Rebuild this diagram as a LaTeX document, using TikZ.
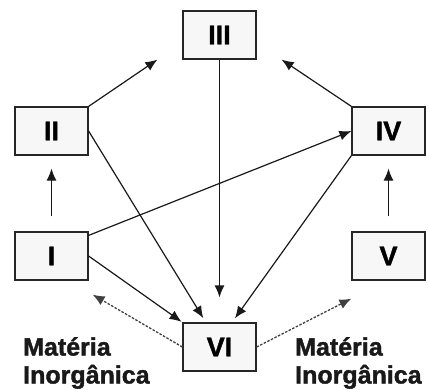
\documentclass[tikz,border=0pt]{standalone}
\usepackage{fontspec}
\setmainfont{Liberation Sans}[BoldFeatures={FakeBold=1.5}]
\usepackage{tikz}
\usetikzlibrary{arrows.meta}

\begin{document}
\begin{tikzpicture}[x=1pt,y=-1pt]
    \tikzstyle{box}=[draw=black!85,line width=1.2pt,fill=gray!6,shape=rectangle,minimum width=73pt,minimum height=48pt,inner sep=0pt,font=\fontsize{27}{30}\selectfont\bfseries]
    \tikzstyle{arrow}=[draw=black!90,line width=1.2pt,-{Latex[length=12pt,width=10pt]}]
    \tikzstyle{dotarrow}=[draw=black!75,line width=1.3pt,dash pattern=on 2.5pt off 1.5pt,-{Latex[length=12pt,width=10pt]}]
    \tikzstyle{note}=[align=left,inner sep=0pt,font=\fontsize{25}{28}\selectfont\bfseries,text=black!90]

    \useasboundingbox (0,0) rectangle (429,389);

    \node[box] (III) at (219.5, 35) {III};
    \node[box] (II) at (51.5, 131) {II};
    \node[box] (IV) at (388.5, 131) {IV};
    \node[box] (I) at (51.5, 256) {I};
    \node[box] (V) at (388.5, 256) {V};
    \node[box] (VI) at (219.5, 347) {VI};

    \node[note,anchor=north west] (leftnote) at (23, 337) {Matéria\\Inorgânica};
    \node[note,anchor=north west] (rightnote) at (295, 337) {Matéria\\Inorgânica};

    \path[arrow] (II.north east) -- ([xshift=-25pt]III.south west);
    \path[arrow] (IV.north west) -- ([xshift=25pt]III.south east);
    \path[arrow,shorten >=25pt] (III) -- (VI);
    \path[arrow,shorten <=15pt,shorten >=13pt] (I) -- (II);
    \path[arrow,shorten <=15pt,shorten >=13pt] (V) -- (IV);
    \path[arrow] ([yshift=-4pt]I.north east) -- (IV.west);
    \path[arrow,shorten >=5pt] (II.east) -- (VI.119);
    \path[arrow,shorten >=1pt] (I.east) -- (VI.north west);
    \path[arrow,shorten >=5pt] (IV.south west) -- (VI.63);
    \path[dotarrow] (VI.west) -- ([shift={(4pt,-14pt)}]I.south east);
    \path[dotarrow] (VI.east) -- ([yshift=-18pt]V.south west);
\end{tikzpicture}
\end{document}
